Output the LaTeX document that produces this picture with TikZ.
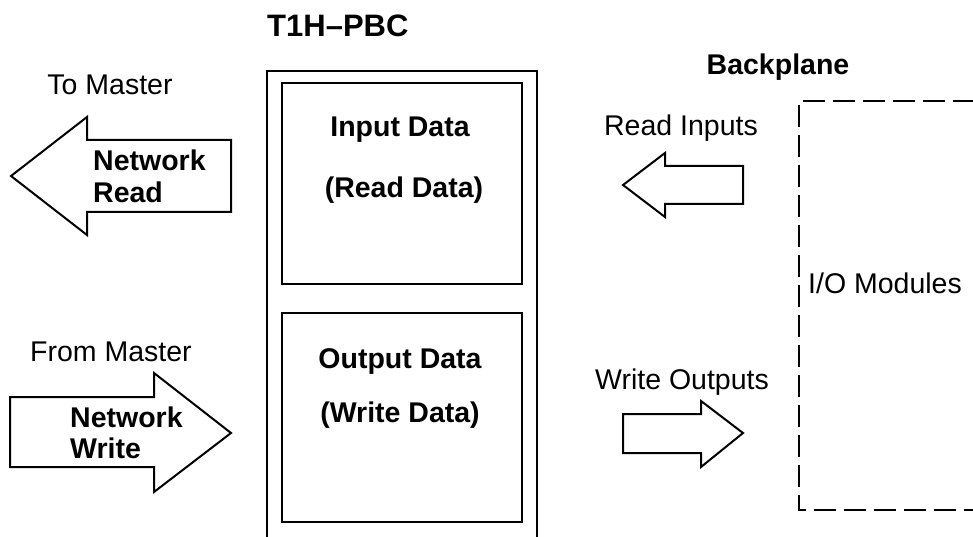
\documentclass[tikz,border=0pt]{standalone}
\usepackage{fontspec}
\setmainfont{Liberation Sans}
\begin{document}
\begin{tikzpicture}[x=1pt,y=-1pt,line join=miter,
  edge/.style={line width=2pt,draw=black},
  dashbox/.style={line width=2pt,draw=black,dash pattern=on 22pt off 8pt},
  lbl/.style={font=\fontsize{28.5}{30}\selectfont,inner sep=0pt,anchor=base},
  blbl/.style={font=\fontsize{28.5}{30}\selectfont\bfseries,inner sep=0pt,anchor=base},
  tlbl/.style={font=\fontsize{31}{33}\selectfont\bfseries,inner sep=0pt,anchor=base west}]
\useasboundingbox (0,0) rectangle (973,537);

% T1H-PBC module
\node[tlbl] (title) at (267,37) {T1H–PBC};
\draw[edge] (267,540) -- (267,71) -- (537,71) -- (537,540);
\draw[edge] (282,83) rectangle (522,284);
\draw[edge] (282,313) rectangle (522,522);
\node[blbl] (in1) at (400,137) {Input Data};
\node[blbl] (in2) at (404,198) {(Read Data)};
\node[blbl] (out1) at (400,368) {Output Data};
\node[blbl] (out2) at (400,422) {(Write Data)};

% Network Read arrow
\node[lbl] (tomaster) at (110,95) {To Master};
\draw[edge] (11,176) -- (87,117) -- (87,140) -- (231,140) -- (231,212) -- (87,212) -- (87,235) -- cycle;
\node[blbl,anchor=base west] (nr1) at (93,171) {Network};
\node[blbl,anchor=base west] (nr2) at (93,203) {Read};

% Network Write arrow
\node[lbl] (frommaster) at (111,361) {From Master};
\draw[edge] (10,397) -- (154,397) -- (154,373) -- (231,433) -- (154,492) -- (154,467) -- (10,467) -- cycle;
\node[blbl,anchor=base west] (nw1) at (70,427) {Network};
\node[blbl,anchor=base west] (nw2) at (70,458) {Write};

% Backplane side
\node[blbl] (backplane) at (778,75) {Backplane};
\node[lbl] (readin) at (681,136) {Read Inputs};
\draw[edge] (623,185) -- (665,153) -- (665,166) -- (743,166) -- (743,204) -- (665,204) -- (665,217) -- cycle;
\node[lbl] (writeout) at (682,389) {Write Outputs};
\draw[edge] (623,414) -- (701,414) -- (701,401) -- (743,433) -- (701,467) -- (701,453) -- (623,453) -- cycle;

% I/O modules dashed box
\draw[dashbox] (975,101) -- (799,101) -- (799,510) -- (975,510);
\node[lbl,anchor=base west] (io) at (808,293) {I/O Modules};
\end{tikzpicture}
\end{document}
